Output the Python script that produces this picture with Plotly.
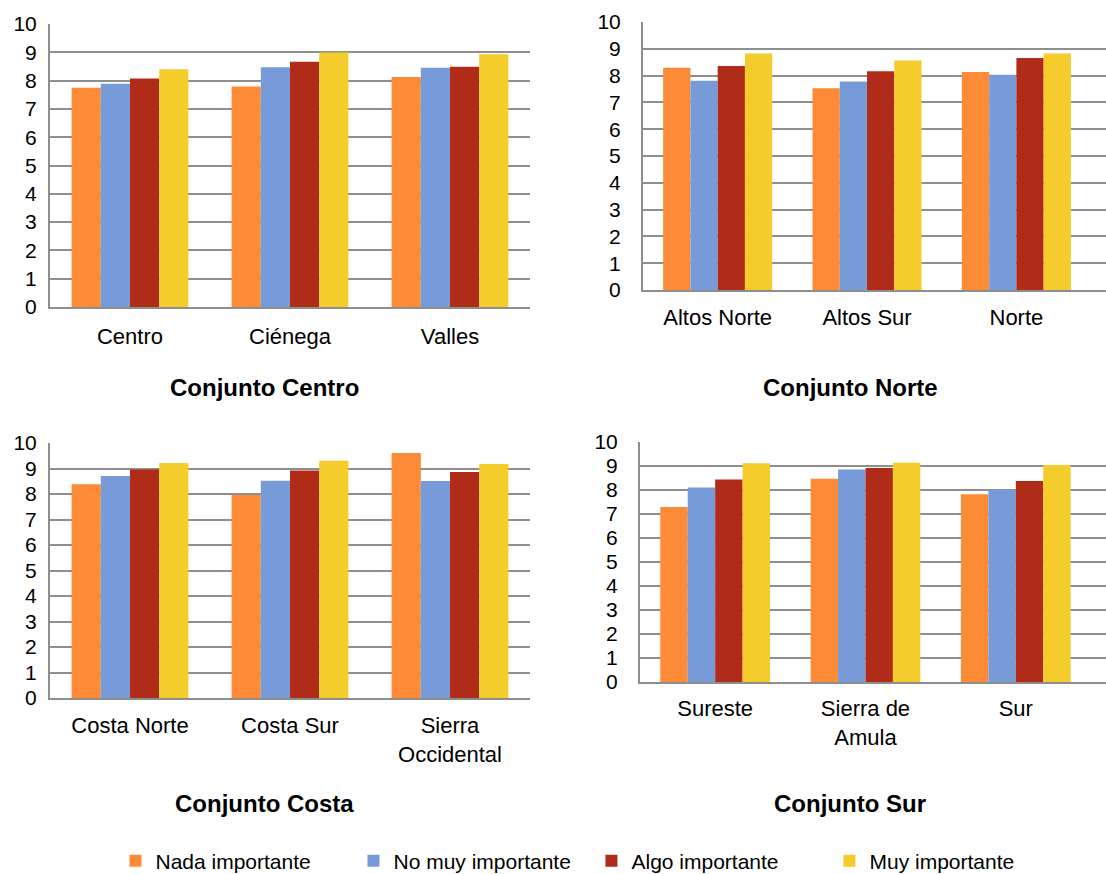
import plotly.graph_objects as go

# ---- data ----
series_names = ["Nada importante", "No muy importante", "Algo importante", "Muy importante"]
series_colors = ["#FD8A37", "#779BD8", "#B12C18", "#F4CD2D"]

panel_titles = ["Conjunto Centro", "Conjunto Norte", "Conjunto Costa", "Conjunto Sur"]

centro_regions = ["Centro", "Ciénega", "Valles"]
norte_regions = ["Altos Norte", "Altos Sur", "Norte"]
costa_regions = ["Costa Norte", "Costa Sur", "Sierra Occidental"]
sur_regions = ["Sureste", "Sierra de Amula", "Sur"]

centro_ticks = ["Centro", "Ciénega", "Valles"]
norte_ticks = ["Altos Norte", "Altos Sur", "Norte"]
costa_ticks = ["Costa Norte", "Costa Sur", "Sierra<br>Occidental"]
sur_ticks = ["Sureste", "Sierra de<br>Amula", "Sur"]

nada_centro = [7.75, 7.79, 8.13]
no_muy_centro = [7.89, 8.47, 8.45]
algo_centro = [8.07, 8.67, 8.49]
muy_centro = [8.40, 8.99, 8.93]

nada_norte = [8.29, 7.53, 8.13]
no_muy_norte = [7.81, 7.78, 8.03]
algo_norte = [8.36, 8.16, 8.66]
muy_norte = [8.82, 8.56, 8.82]

nada_costa = [8.38, 7.96, 9.61]
no_muy_costa = [8.71, 8.52, 8.51]
algo_costa = [8.96, 8.92, 8.86]
muy_costa = [9.22, 9.30, 9.18]

nada_sur = [7.29, 8.47, 7.82]
no_muy_sur = [8.10, 8.85, 8.01]
algo_sur = [8.44, 8.92, 8.38]
muy_sur = [9.11, 9.14, 9.04]

y_ticks = [0, 1, 2, 3, 4, 5, 6, 7, 8, 9, 10]

panels = [
    (centro_regions, centro_ticks, [nada_centro, no_muy_centro, algo_centro, muy_centro]),
    (norte_regions, norte_ticks, [nada_norte, no_muy_norte, algo_norte, muy_norte]),
    (costa_regions, costa_ticks, [nada_costa, no_muy_costa, algo_costa, muy_costa]),
    (sur_regions, sur_ticks, [nada_sur, no_muy_sur, algo_sur, muy_sur]),
]

# ---- layout geometry (pixels) ----
W, H = 1106, 874
FONT = "Liberation Sans, Arial, sans-serif"
GRID = "#8E8E8E"

# (x0, x1, ytop, ybottom, x range max, y label standoff, x label standoff)
geom = [
    (50, 530, 24, 307, 2.5, 7, 9),
    (643, 1106, 22, 290, 2.6, 16, 7),
    (50, 530, 443, 698, 2.5, 7, 7),
    (640, 1106, 442, 682, 2.6, 16, 6),
]
title_pos = [(264, 387), (850, 387), (264, 803), (850, 803)]

fig = go.Figure()

for p, (cats, ticks, vals) in enumerate(panels):
    ax = "" if p == 0 else str(p + 1)
    for s, name in enumerate(series_names):
        fig.add_trace(go.Bar(
            x=cats, y=vals[s], name=name,
            marker=dict(color=series_colors[s], line=dict(width=0)),
            xaxis="x" + ax, yaxis="y" + ax,
            legendgroup=name, showlegend=(p == 0),
        ))

layout = dict(
    width=W, height=H,
    margin=dict(l=0, r=0, t=0, b=0, autoexpand=False),
    paper_bgcolor="white", plot_bgcolor="white",
    font=dict(family=FONT, size=20, color="#000000"),
    barmode="group", bargap=0.27, bargroupgap=0,
    showlegend=True,
    legend=dict(
        orientation="h", x=0.1044, y=1 - 861 / H, xanchor="left", yanchor="middle",
        font=dict(family=FONT, size=21, color="#000000"),
        entrywidth=193, entrywidthmode="pixels",
        bgcolor="rgba(0,0,0,0)", borderwidth=0,
    ),
    annotations=[],
)

for p, (cats, ticks, vals) in enumerate(panels):
    x0, x1, yt, yb, xmax, ystand, xstand = geom[p]
    ax = "" if p == 0 else str(p + 1)
    layout["xaxis" + ax] = dict(
        domain=[x0 / W, x1 / W], anchor="y" + ax,
        type="category", range=[-0.5, xmax],
        tickmode="array", tickvals=cats, ticktext=ticks,
        showgrid=False, showline=True, linecolor=GRID, linewidth=2,
        ticks="", tickfont=dict(family=FONT, size=22, color="#000000"),
        ticklabelstandoff=xstand, fixedrange=True, automargin=False,
    )
    layout["yaxis" + ax] = dict(
        domain=[1 - yb / H, 1 - yt / H], anchor="x" + ax,
        range=[0, 10], tickmode="array", tickvals=y_ticks,
        showgrid=True, gridcolor=GRID, gridwidth=2,
        showline=True, linecolor=GRID, linewidth=2,
        ticks="", zeroline=False,
        tickfont=dict(family=FONT, size=21, color="#000000"),
        ticklabelstandoff=ystand, fixedrange=True, automargin=False,
    )
    tx, ty = title_pos[p]
    layout["annotations"].append(dict(
        text="<b>" + panel_titles[p] + "</b>", x=tx / W, y=1 - ty / H,
        xref="paper", yref="paper", xanchor="center", yanchor="middle",
        showarrow=False, font=dict(family=FONT, size=24, color="#000000"),
    ))

fig.update_layout(**layout)
fig.write_html(
    "out.html",
    config={"displayModeBar": False},
    post_script="document.body.style.margin='0';document.body.style.overflow='hidden';",
)
